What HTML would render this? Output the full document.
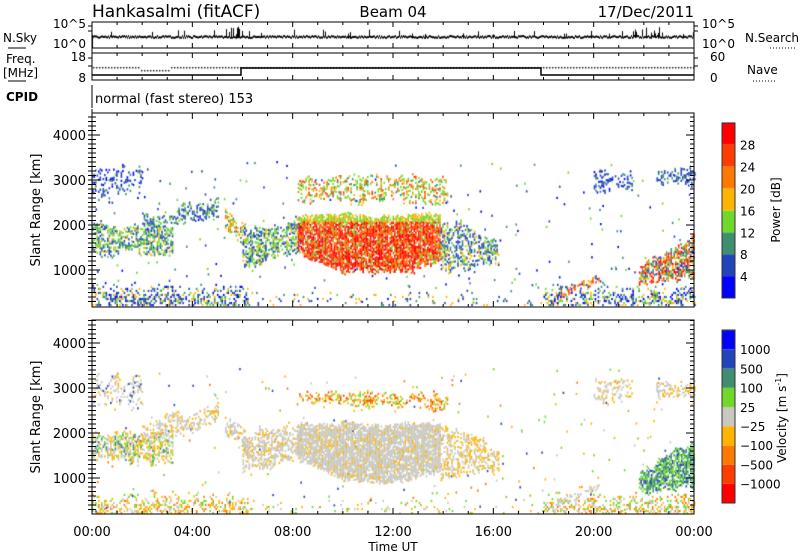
<!DOCTYPE html>
<html><head><meta charset="utf-8"><style>
body{margin:0;background:#fff;width:800px;height:554px;overflow:hidden;position:relative;font-family:"Liberation Sans","DejaVu Sans",sans-serif}
canvas,svg{position:absolute;left:0;top:0}
</style></head><body>
<canvas id="c" width="800" height="554"></canvas>
<svg id="s" width="800" height="554" xmlns="http://www.w3.org/2000/svg" font-family="DejaVu Sans, Liberation Sans, sans-serif">
<g font-size="17" fill="#000">
<text x="92" y="17">Hankasalmi (fitACF)</text>
<text x="393" y="17" text-anchor="middle" font-size="15">Beam 04</text>
<text x="694" y="17" text-anchor="end" font-size="15">17/Dec/2011</text>
</g>
<g font-size="12" fill="#000">
<text x="3" y="42">N.Sky</text><line x1="8" y1="48" x2="26" y2="48" stroke="#000"/>
<text x="6" y="63">Freq.</text><text x="3" y="77">[MHz]</text><line x1="8" y1="81" x2="26" y2="81" stroke="#000"/>
<text x="6" y="101" font-weight="bold">CPID</text>
<text x="86" y="28" text-anchor="end">10^5</text><text x="86" y="48" text-anchor="end">10^0</text>
<text x="86" y="61" text-anchor="end">18</text><text x="86" y="82" text-anchor="end">8</text>
<text x="702" y="28">10^5</text><text x="702" y="48">10^0</text>
<text x="710" y="61">60</text><text x="710" y="82">0</text>
<text x="745" y="42">N.Search</text><line x1="770" y1="48" x2="795" y2="48" stroke="#000" stroke-dasharray="1,2"/>
<text x="747" y="74">Nave</text><line x1="753" y1="81" x2="775" y2="81" stroke="#000" stroke-dasharray="1,2"/>
<text x="95" y="103" font-size="13">normal (fast stereo) 153</text>
</g>
<g id="ax" stroke="#000" fill="none"></g>
<g id="tx" font-size="13" fill="#000"></g>
</svg>
<script>
var ctx=document.getElementById('c').getContext('2d');
var s=0x1234567;function R(){s^=s<<13;s^=s>>>17;s^=s<<5;return ((s>>>0)%100000)/100000;}
var X0=92,X1=694,PX=(X1-X0)/24;
function X(h){return X0+h*PX;}
function Y1(k){return 315-k*0.045;}function Y2(k){return 523-k*0.045;}
var P=['#0000ff','#2244bb','#3f8f6f','#6fd82a','#ffb400','#ff7800','#ff3c00','#ff0000'];
var V={b:'#2244bb',t:'#3f8f6f',g:'#6fd82a',y:'#c8c8c0',o:'#ffb400',r:'#ff7800',R:'#ff3c00'};
function blob(Y,h0,h1,k0f,k1f,d,col,j){
 j=(j===undefined)?250:j;var a=0,b=0;
 for(var h=h0;h<h1;h+=0.06){a+=(R()-0.5)*j*0.5;a*=0.85;b+=(R()-0.5)*j*0.5;b*=0.85;
  var lo=k0f(h)+a,hi=k1f(h)+b;
  for(var k=lo;k<hi;k+=45){var dd=(typeof d=='function')?d(h,k):d;
   var edge=Math.min(k-lo,hi-k);if(edge<120)dd*=0.55+edge/270;
   if(R()<dd){ctx.fillStyle=col(h,k);ctx.fillRect(X(h),Y(k)-2,1.6,2.2);}}}
}
function c(v){return function(){return v;};}
function pick(a){return function(){return a[Math.floor(R()*a.length)];};}
function clut(base){return function(h,k){return base*Math.max(0.05,(700-k)/500);};}
function sc(Y,n,cols){for(var i=0;i<n;i++){ctx.fillStyle=cols[Math.floor(R()*cols.length)];ctx.fillRect(X(R()*24),Y(200+R()*3200)-2,1.6,2.2);}}
// ---------- power panel ----------
var Y=Y1;
blob(Y,0,6.2,c(200),c(750),clut(0.6),pick([P[1],P[1],P[0],P[2],P[3],P[4]]),0);
blob(Y,18,24,c(200),c(700),clut(0.55),pick([P[1],P[0],P[2],P[3],P[4]]),0);
blob(Y,6,18,c(200),c(500),clut(0.12),pick([P[1],P[2],P[4]]),0);
sc(Y,250,[P[1],P[2],P[3],P[0]]);
blob(Y,0,3.2,c(1300),c(2000),0.55,pick([P[1],P[2],P[2],P[3],P[3],P[4],P[1]]));
blob(Y,0,2,c(2500),c(3200),0.25,pick([P[1],P[1],P[0],P[2]]),400);
blob(Y,2,5,function(h){return 1800+(h-2)*120;},function(h){return 2250+(h-2)*120;},0.4,pick([P[1],P[2],P[3],P[1]]));
blob(Y,5.3,6.1,function(h){return 1500+(6.1-h)*500;},function(h){return 1950+(6.1-h)*500;},0.55,pick([P[2],P[3],P[4],P[5]]));
blob(Y,6,8.3,function(h){return 1100+(h-6)*80;},function(h){return 1950+(h-6)*60;},0.55,pick([P[1],P[2],P[3],P[3],P[4],P[1]]));
blob(Y,8.2,13.9,function(h){return h<10?1400-(h-8.2)*270:(h<12.5?930:930+(h-12.5)*150);},c(2200),0.85,function(h,k){var r=R();if(k>2050||r<0.12)return r<0.5?P[3]:P[4];return r<0.5?P[7]:(r<0.75?P[6]:P[5]);},150);
blob(Y,8.2,14.2,c(2500),c(3100),0.35,pick([P[3],P[4],P[5],P[6],P[2],P[3]]));
blob(Y,13.9,16.2,function(h){return 950+(h-13.9)*100;},function(h){return 2150-(h-13.9)*200;},0.45,pick([P[1],P[1],P[2],P[3],P[4]]));
blob(Y,20,21.5,c(2700),c(3200),0.4,pick([P[1],P[1],P[0],P[2]]));
blob(Y,22.5,24,c(2850),c(3200),0.45,pick([P[1],P[1],P[2]]));
blob(Y,21.8,24,function(h){return 700+(h-21.8)*40;},function(h){return 1100+(h-21.8)*300;},0.7,pick([P[5],P[6],P[7],P[4],P[3],P[2],P[1]]));
blob(Y,18.5,20.2,function(h){return 350+(h-18.5)*230;},function(h){return 500+(h-18.5)*230;},0.6,pick([P[5],P[6],P[4],P[1]]),80);
// ---------- velocity panel ----------
Y=Y2;
blob(Y,0,6.2,c(200),c(750),clut(0.6),pick([V.o,V.o,V.y,V.g,V.r]),0);
blob(Y,18,24,c(200),c(700),clut(0.55),pick([V.o,V.y,V.g,V.r]),0);
blob(Y,6,18,c(200),c(500),clut(0.12),pick([V.o,V.y,V.g]),0);
sc(Y,250,[V.y,V.o,V.g,V.b,V.r]);
blob(Y,0,3.2,c(1350),c(2000),0.55,pick([V.o,V.o,V.g,V.y,V.y,V.t]));
blob(Y,0,2,c(2600),c(3200),0.3,pick([V.y,V.y,V.y,V.b,V.o]),400);
blob(Y,2,5,function(h){return 1800+(h-2)*120;},function(h){return 2250+(h-2)*120;},0.4,pick([V.y,V.y,V.o]));
blob(Y,5.3,6.1,function(h){return 1500+(6.1-h)*500;},function(h){return 1950+(6.1-h)*500;},0.55,pick([V.y,V.y,V.o]));
blob(Y,6,8.3,function(h){return 1100+(h-6)*80;},function(h){return 1950+(h-6)*60;},0.55,pick([V.y,V.y,V.y,V.o]));
blob(Y,8.2,13.9,function(h){return h<10?1400-(h-8.2)*270:(h<12.5?930:930+(h-12.5)*150);},c(2200),0.85,pick([V.y,V.y,V.y,V.y,V.y,V.y,V.y,V.o]),150);
blob(Y,8.2,14.2,c(2550),c(2900),0.45,pick([V.o,V.r,V.o,V.g,V.R]));
blob(Y,13.9,16.2,function(h){return 950+(h-13.9)*100;},function(h){return 2150-(h-13.9)*200;},0.45,pick([V.y,V.o,V.o,V.y]));
blob(Y,20,21.5,c(2700),c(3200),0.35,pick([V.y,V.y,V.o]));
blob(Y,22.5,24,c(2850),c(3200),0.45,pick([V.y,V.y,V.o]));
blob(Y,21.8,24,function(h){return 700+(h-21.8)*40;},function(h){return 1100+(h-21.8)*300;},0.7,pick([V.t,V.t,V.g,V.b,V.g]));
blob(Y,18.5,20.2,function(h){return 350+(h-18.5)*230;},function(h){return 500+(h-18.5)*230;},0.6,pick([V.y,V.y]),80);
// colorbars
for(var i=0;i<8;i++){ctx.fillStyle=P[i];ctx.fillRect(722,298-(i+1)*21.9,13,21.9);}
var VC2=['#ff0000','#ff3c00','#ff7800','#ffb400','#c8c8c0','#6fd82a','#3f8f6f','#2244bb','#0000ff'];
for(i=0;i<9;i++){ctx.fillStyle=VC2[i];ctx.fillRect(722,503-(i+1)*19.2,13,19.2);}
// N.Sky line
ctx.fillStyle='#000';
for(var x=93;x<694;x++){var y=35+R()*2;var hgt=2;if(R()<0.05)hgt=4+R()*4;if((x>225&&x<240)||(x>630&&x<660))if(R()<0.5)hgt=4+R()*8;ctx.fillRect(x,y-hgt+2,1,hgt);}
for(x=93;x<694;x+=3){var yy=(x>140&&x<170)?70:67;ctx.fillRect(x,yy,1.4,1.4);}
ctx.fillRect(92,35,1,13);
// axes svg
var ax=document.getElementById('ax'),tx=document.getElementById('tx');
function L(a,b,c2,d){ax.insertAdjacentHTML('beforeend','<line x1="'+a+'" y1="'+b+'" x2="'+c2+'" y2="'+d+'"/>');}
function T(x,y,t,anc,ex){tx.insertAdjacentHTML('beforeend','<text x="'+x+'" y="'+y+'" text-anchor="'+(anc||'start')+'" '+(ex||'')+'>'+t+'</text>');}
function box(y0,y1){ax.insertAdjacentHTML('beforeend','<rect x="92" y="'+y0+'" width="602" height="'+(y1-y0)+'"/>');}
box(22,48);box(53,80);
L(92,48,92,53);L(694,48,694,53);
for(var h=0;h<=24;h++){var xx=X(h),len=(h%4==0)?5:3;L(xx,22,xx,22+len);L(xx,48,xx,48-len);L(xx,53,xx,53+len);L(xx,80,xx,80-len);}
L(92,85,92,108);
ax.insertAdjacentHTML('beforeend','<polyline points="92,75 241,75 241,68 541,68 541,75 694,75" stroke-width="1.5"/>');
L(88,26,92,26);L(88,31,92,31);L(694,26,698,26);L(694,31,698,31);L(88,58,92,58);L(88,66,92,66);L(694,58,698,58);L(694,66,698,66);
function panel(y0,y1,Yf){box(y0,y1);
 for(var k=300;k<=4500;k+=100){var yv=Yf(k);if(yv<y0||yv>y1)continue;var l=(k%1000==0)?8:4;L(92,yv,92+l,yv);L(694,yv,694-l,yv);L(88,yv,92,yv);}
 for(var k2=1000;k2<=4000;k2+=1000){T(86,Yf(k2)+5,k2,'end');}
 for(h=0;h<=24;h++){xx=X(h);len=(h%4==0)?6:3;L(xx,y1,xx,y1-len);L(xx,y0,xx,y0+len);}
 T(40,(y0+y1)/2,'Slant Range [km]','middle','transform="rotate(-90 40 '+(y0+y1)/2+')"');
}
panel(113,307,Y1);panel(320,514,Y2);
L(92,109,92,113);
var lab=['00:00','04:00','08:00','12:00','16:00','20:00','00:00'];
for(i=0;i<7;i++)T(X(i*4),536,lab[i],'middle');
T(393,551,'Time UT','middle','font-size="12"');
ax.insertAdjacentHTML('beforeend','<rect x="722" y="123" width="13" height="175" stroke="#333"/><rect x="722" y="330" width="13" height="173" stroke="#333"/>');
var pl=['4','8','12','16','20','24','28'];
for(i=0;i<7;i++)T(740,298-(i+1)*21.9+5,pl[i],'start','font-size="12"');
var vl=['1000','500','100','25','\u221225','\u2212100','\u2212500','\u22121000'];
for(i=0;i<8;i++)T(740,330+(i+1)*19.2+5,vl[i],'start','font-size="12"');
T(780,210,'Power [dB]','middle','font-size="12" transform="rotate(-90 780 210)"');
T(786,418,'Velocity [m s<tspan dy="-5" font-size="8">-1</tspan><tspan dy="5">]</tspan>','middle','font-size="12" transform="rotate(-90 786 418)"');
</script>
</body></html>
